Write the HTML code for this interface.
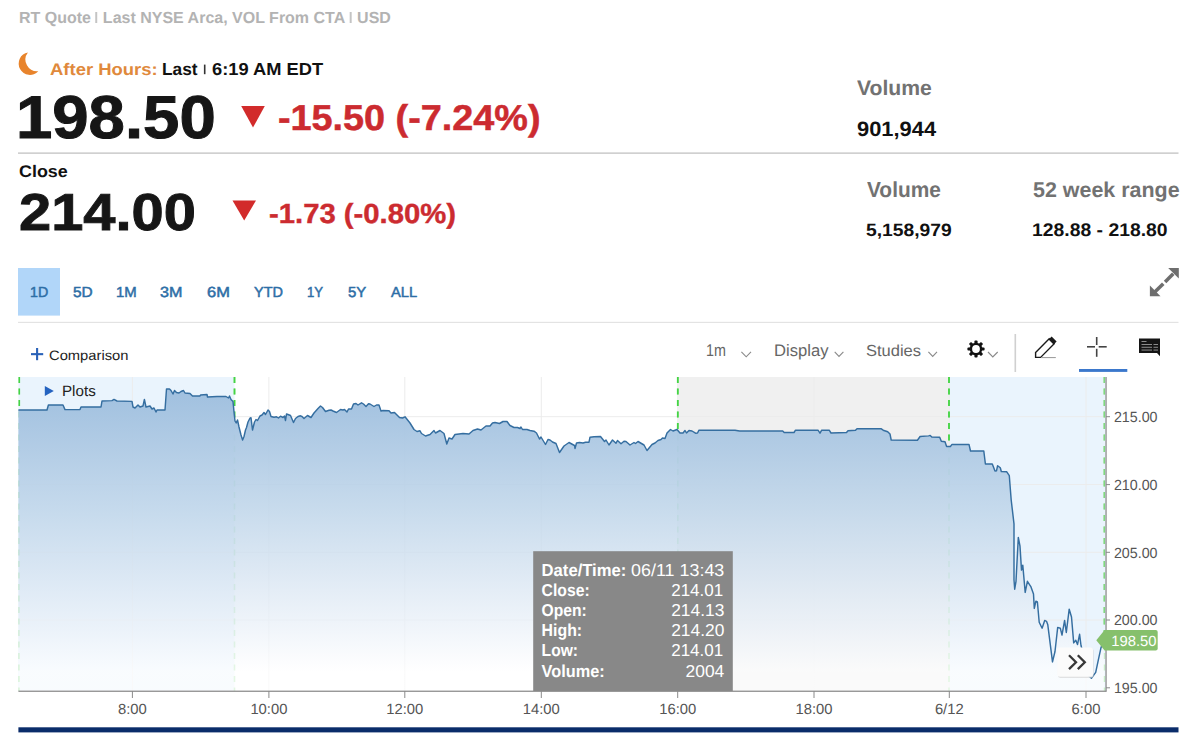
<!DOCTYPE html>
<html><head><meta charset="utf-8">
<style>
html,body{text-rendering:geometricPrecision;margin:0;padding:0;background:#fff;width:1200px;height:753px;overflow:hidden;position:relative}
.t{position:absolute;font-family:'Liberation Sans', sans-serif;line-height:1;white-space:pre;transform-origin:0 0}
.ax{font-family:'Liberation Sans', sans-serif;font-size:14.8px;fill:#555}
.tt{font-family:'Liberation Sans', sans-serif;font-size:17.3px;fill:#fff}
</style></head><body>
<svg width="1200" height="753" style="position:absolute;left:0;top:0">
<defs>
<linearGradient id="fg" gradientUnits="userSpaceOnUse" x1="0" y1="390" x2="0" y2="691">
<stop offset="0.000" stop-color="rgb(160,192,223)" stop-opacity="1.000"/>
<stop offset="0.199" stop-color="rgb(175,202,228)" stop-opacity="0.936"/>
<stop offset="0.399" stop-color="rgb(192,214,234)" stop-opacity="0.872"/>
<stop offset="0.598" stop-color="rgb(213,227,241)" stop-opacity="0.809"/>
<stop offset="0.797" stop-color="rgb(236,242,249)" stop-opacity="0.745"/>
<stop offset="0.937" stop-color="rgb(255,255,255)" stop-opacity="0.700"/>
<stop offset="1.000" stop-color="rgb(255,255,255)" stop-opacity="0.680"/>
</linearGradient>
</defs>
<!-- moon -->
<path d="M27.9,52.4 A11.35,11.35 0 1 0 38.3,71.3 A11.8,11.8 0 0 1 27.9,52.4 Z" fill="#e8842c"/>
<!-- triangles -->
<path d="M241.2,106 L264.8,106 L253,127.6 Z" fill="#d22b2b"/>
<path d="M232.5,200.5 L256,200.5 L244.2,220.5 Z" fill="#d22b2b"/>
<!-- dividers -->
<rect x="18" y="152.5" width="1160.5" height="1.2" fill="#bdbdbd"/>
<rect x="18" y="268" width="42" height="47.6" fill="#b1d6f9"/>
<rect x="18" y="321.8" width="1160.5" height="1.2" fill="#e3e3e3"/>
<!-- expand icon -->
<g fill="#6e6e6e">
<path d="M1168.2,268 L1178.8,268 L1178.8,278.6 Z"/>
<path d="M1149.9,285.6 L1149.9,296.2 L1160.5,296.2 Z"/>
<path d="M1172,272.5 L1174.5,275 L1166.3,283.2 L1163.8,280.7 Z"/>
<path d="M1162,282.4 L1164.5,284.9 L1156.3,293.1 L1153.8,290.6 Z"/>
</g>
<rect x="203.9" y="64.6" width="1.6" height="9.6" fill="#333"/>
<!-- plus -->
<rect x="31" y="353.1" width="12.2" height="2.1" fill="#2a62b8"/>
<rect x="36.05" y="348" width="2.1" height="12.2" fill="#2a62b8"/>
<!-- dropdown chevrons -->
<g stroke="#8a8a8a" stroke-width="1.1" fill="none">
<path d="M741.4,351.8 L746.2,356.8 L751,351.8"/>
<path d="M834.7,351.8 L839,356.4 L843.4,351.8"/>
<path d="M928.4,351.8 L932.7,356.4 L937,351.8"/>
<path d="M988,352 L992.8,357 L997.7,352"/>
</g>
<!-- gear -->
<g transform="translate(976,349)">
<g fill="#111">
<circle r="6.3"/>
<rect x="-1.6" y="-8.6" width="3.2" height="17.2" rx="1"/>
<rect x="-1.6" y="-8.6" width="3.2" height="17.2" rx="1" transform="rotate(45)"/>
<rect x="-1.6" y="-8.6" width="3.2" height="17.2" rx="1" transform="rotate(90)"/>
<rect x="-1.6" y="-8.6" width="3.2" height="17.2" rx="1" transform="rotate(135)"/>
</g>
<circle r="3.9" fill="#fff"/>
</g>
<rect x="1014.5" y="334" width="1.6" height="38" fill="#d0d0d0"/>
<!-- pencil -->
<g>
<path d="M1035.6,352.4 L1049.2,338.8 L1054.2,343.8 L1040.6,357.4 L1035.6,357.4 Z" fill="none" stroke="#1a1a1a" stroke-width="1.4" stroke-linejoin="miter"/>
<path d="M1048.6,339.4 L1051.6,336.4 L1056.6,341.4 L1053.6,344.4 Z" fill="#1a1a1a"/>
<rect x="1041" y="357" width="14.8" height="1.1" fill="#a0a0a0"/>
</g>
<!-- crosshair -->
<g fill="#444">
<rect x="1087" y="346.0" width="8" height="1.6"/>
<rect x="1098.7" y="346.0" width="8" height="1.6"/>
<rect x="1095.9" y="337" width="1.6" height="8"/>
<rect x="1095.9" y="348.8" width="1.6" height="8"/>
</g>
<rect x="1079" y="369" width="48.3" height="2.9" fill="#3b78cc"/>
<!-- comment icon -->
<path d="M1139,338.5 L1160,338.5 L1160,356.3 L1157,353 L1139,353 Z" fill="#141414"/>
<g fill="#999">
<rect x="1141.5" y="341" width="5" height="0.9"/>
<rect x="1141.5" y="344" width="10.5" height="0.9"/>
<rect x="1153.5" y="344" width="4.5" height="0.9"/>
<rect x="1141.5" y="346.8" width="10.5" height="0.9"/>
<rect x="1153.5" y="346.8" width="4.5" height="0.9"/>
<rect x="1141.5" y="349.6" width="10.5" height="0.9"/>
<rect x="1153.5" y="349.6" width="4.5" height="0.9"/>
</g>

<!-- chart backgrounds -->
<rect x="18.4" y="377" width="216.1" height="314" fill="#eaf4fd"/>
<rect x="677.8" y="377" width="271.2" height="314" fill="#f0f0f0"/>
<rect x="949" y="377" width="157" height="314" fill="#eaf4fd"/>
<line x1="18.4" x2="1106" y1="416.7" y2="416.7" stroke="#ececec" stroke-width="1"/><line x1="18.4" x2="1106" y1="484.6" y2="484.6" stroke="#ececec" stroke-width="1"/><line x1="18.4" x2="1106" y1="552.3" y2="552.3" stroke="#ececec" stroke-width="1"/><line x1="18.4" x2="1106" y1="620.0" y2="620.0" stroke="#ececec" stroke-width="1"/><line x1="132.4" x2="132.4" y1="377" y2="691" stroke="#ececec" stroke-width="1"/><line x1="268.9" x2="268.9" y1="377" y2="691" stroke="#ececec" stroke-width="1"/><line x1="404.8" x2="404.8" y1="377" y2="691" stroke="#ececec" stroke-width="1"/><line x1="541.3" x2="541.3" y1="377" y2="691" stroke="#ececec" stroke-width="1"/><line x1="677.7" x2="677.7" y1="377" y2="691" stroke="#ececec" stroke-width="1"/><line x1="814.0" x2="814.0" y1="377" y2="691" stroke="#ececec" stroke-width="1"/><line x1="949.3" x2="949.3" y1="377" y2="691" stroke="#ececec" stroke-width="1"/><line x1="1086.0" x2="1086.0" y1="377" y2="691" stroke="#ececec" stroke-width="1"/>
<line x1="19.2" x2="19.2" y1="377" y2="691" stroke="#a8e4a8" stroke-width="1.6" stroke-dasharray="6,5.5"/><line x1="234.5" x2="234.5" y1="377" y2="691" stroke="#a8e4a8" stroke-width="1.6" stroke-dasharray="6,5.5"/><line x1="677.8" x2="677.8" y1="377" y2="691" stroke="#a8e4a8" stroke-width="1.6" stroke-dasharray="6,5.5"/><line x1="949.0" x2="949.0" y1="377" y2="691" stroke="#a8e4a8" stroke-width="1.6" stroke-dasharray="6,5.5"/><line x1="1104.3" x2="1104.3" y1="377" y2="691" stroke="#a8e4a8" stroke-width="1.6" stroke-dasharray="6,5.5"/>
<path d="M18.4,410.0 L47.0,410.0 L48.4,405.0 L63.0,405.0 L65.0,409.6 L80.0,409.6 L81.0,407.0 L101.0,407.0 L102.0,401.0 L112.0,400.6 L114.0,399.4 L117.0,401.0 L132.0,401.4 L133.0,407.0 L135.0,408.0 L138.0,405.0 L140.0,407.0 L143.0,406.0 L144.4,399.4 L146.0,407.0 L150.0,406.0 L152.0,409.0 L154.0,408.0 L156.0,412.0 L157.0,410.0 L165.0,410.0 L166.5,389.0 L169.5,389.0 L171.0,390.5 L173.0,394.0 L174.5,390.5 L176.5,392.5 L179.0,393.0 L181.0,391.5 L183.5,390.5 L185.0,393.0 L190.0,393.5 L192.5,396.0 L200.0,396.0 L200.5,395.0 L207.0,394.5 L207.5,397.0 L217.0,396.5 L226.0,396.5 L228.5,398.0 L229.5,396.0 L231.0,399.5 L233.0,401.5 L234.0,412.0 L235.0,421.0 L236.2,423.0 L237.5,420.0 L239.0,427.0 L241.0,435.0 L242.6,440.0 L244.0,436.5 L245.5,430.0 L246.5,427.5 L248.0,422.0 L250.0,418.2 L251.0,417.7 L252.5,430.0 L254.5,422.0 L256.0,419.5 L257.5,420.5 L260.0,416.0 L262.0,415.0 L264.0,412.5 L265.5,414.5 L268.0,410.0 L269.5,411.5 L271.0,416.5 L274.0,417.2 L276.5,416.8 L278.5,418.0 L280.5,416.2 L283.0,417.5 L284.5,416.0 L285.5,420.5 L286.5,414.0 L288.0,414.5 L290.5,415.5 L293.5,422.5 L295.5,418.5 L298.0,416.5 L300.5,415.8 L302.0,416.5 L304.0,418.5 L307.5,415.5 L311.0,417.5 L314.0,413.0 L318.0,408.5 L320.5,406.0 L322.5,407.5 L325.5,411.5 L329.0,410.2 L331.0,410.0 L333.0,411.0 L336.5,412.5 L340.5,409.5 L343.0,410.0 L344.5,409.5 L347.0,412.0 L348.5,409.0 L351.5,409.0 L353.5,404.0 L356.0,403.5 L358.0,405.0 L361.5,402.8 L363.5,404.0 L366.0,406.5 L368.5,403.8 L370.0,404.0 L374.0,406.5 L376.5,405.0 L379.0,405.0 L381.0,411.0 L383.0,410.5 L389.0,410.8 L391.0,413.0 L394.5,412.5 L399.5,417.5 L402.5,418.0 L405.0,416.8 L410.0,423.0 L414.0,429.5 L417.0,431.5 L420.0,430.8 L421.5,433.5 L425.5,436.0 L430.0,434.5 L434.0,430.5 L435.5,433.0 L440.0,430.5 L444.0,433.5 L446.8,444.0 L449.0,438.0 L452.0,439.0 L455.0,434.5 L459.0,434.0 L463.0,433.5 L469.0,434.0 L473.0,430.5 L477.5,429.0 L481.0,430.0 L486.0,426.0 L490.0,426.0 L492.5,423.0 L495.0,422.5 L499.5,423.5 L503.0,421.5 L507.0,421.5 L510.0,425.5 L514.0,427.5 L517.5,427.5 L520.0,428.5 L521.0,427.0 L522.5,429.5 L527.0,429.5 L530.0,430.5 L534.0,431.2 L536.5,433.0 L539.5,439.0 L541.0,437.0 L545.5,444.5 L548.0,439.5 L550.0,440.0 L552.5,442.0 L556.0,443.5 L559.5,452.5 L564.0,446.0 L569.0,442.5 L574.5,445.5 L575.0,448.5 L576.5,443.0 L579.5,442.5 L583.0,443.0 L585.5,442.2 L589.0,442.2 L590.0,437.2 L594.0,436.8 L600.5,436.5 L604.5,441.5 L606.0,440.0 L609.0,445.0 L612.5,440.0 L616.0,443.2 L617.5,440.5 L621.0,443.8 L624.0,441.2 L626.0,441.5 L630.0,445.0 L634.0,442.5 L635.5,443.5 L638.0,441.5 L644.0,445.0 L647.0,450.5 L652.0,444.5 L655.0,443.0 L658.0,440.5 L661.0,439.5 L662.5,438.0 L665.0,438.5 L667.0,433.0 L670.5,429.5 L673.0,431.0 L677.0,429.5 L680.0,433.0 L683.0,433.0 L685.0,430.5 L686.5,433.0 L689.0,430.5 L692.0,431.0 L695.5,433.2 L697.5,433.0 L699.0,430.2 L735.0,430.2 L739.5,431.0 L782.7,431.0 L784.2,432.5 L794.0,432.5 L795.5,430.2 L818.0,430.2 L820.0,433.2 L821.7,430.2 L829.2,430.2 L831.0,433.0 L846.5,432.5 L848.0,430.7 L855.5,430.2 L857.0,428.7 L881.0,428.7 L883.2,430.2 L887.7,431.7 L890.0,434.0 L891.2,440.0 L917.4,440.2 L920.1,436.5 L928.6,435.9 L930.2,435.4 L931.8,437.0 L939.7,437.2 L941.3,441.2 L945.0,441.8 L946.6,446.5 L950.4,446.5 L952.0,444.4 L969.0,444.4 L970.5,451.0 L983.8,451.0 L985.4,464.0 L992.3,464.0 L995.0,471.0 L996.5,470.8 L997.6,465.7 L1000.3,467.8 L1001.3,471.5 L1006.6,471.7 L1009.3,475.7 L1011.2,500.0 L1014.0,523.9 L1014.0,579.7 L1014.7,589.2 L1016.0,581.3 L1018.3,537.5 L1020.0,546.2 L1021.5,570.1 L1022.8,565.3 L1025.2,592.4 L1027.4,581.3 L1031.0,586.9 L1033.5,594.0 L1034.3,608.4 L1035.9,601.2 L1037.4,602.0 L1039.2,622.2 L1042.1,628.2 L1044.7,620.4 L1046.5,621.3 L1047.8,624.8 L1052.5,661.9 L1055.0,651.5 L1057.7,627.4 L1060.3,628.2 L1062.0,635.1 L1064.6,620.4 L1066.3,632.5 L1069.2,609.2 L1071.5,617.0 L1073.7,642.9 L1075.8,640.3 L1077.5,644.6 L1079.6,634.3 L1081.0,645.5 L1085.0,660.0 L1089.0,676.0 L1091.4,678.3 L1095.7,672.3 L1098.3,660.2 L1100.9,648.1 L1103.4,641.2 L1104.5,640.0 L1104.5,691 L18.4,691 Z" fill="url(#fg)"/>
<clipPath id="above"><path d="M18.4,410.0 L47.0,410.0 L48.4,405.0 L63.0,405.0 L65.0,409.6 L80.0,409.6 L81.0,407.0 L101.0,407.0 L102.0,401.0 L112.0,400.6 L114.0,399.4 L117.0,401.0 L132.0,401.4 L133.0,407.0 L135.0,408.0 L138.0,405.0 L140.0,407.0 L143.0,406.0 L144.4,399.4 L146.0,407.0 L150.0,406.0 L152.0,409.0 L154.0,408.0 L156.0,412.0 L157.0,410.0 L165.0,410.0 L166.5,389.0 L169.5,389.0 L171.0,390.5 L173.0,394.0 L174.5,390.5 L176.5,392.5 L179.0,393.0 L181.0,391.5 L183.5,390.5 L185.0,393.0 L190.0,393.5 L192.5,396.0 L200.0,396.0 L200.5,395.0 L207.0,394.5 L207.5,397.0 L217.0,396.5 L226.0,396.5 L228.5,398.0 L229.5,396.0 L231.0,399.5 L233.0,401.5 L234.0,412.0 L235.0,421.0 L236.2,423.0 L237.5,420.0 L239.0,427.0 L241.0,435.0 L242.6,440.0 L244.0,436.5 L245.5,430.0 L246.5,427.5 L248.0,422.0 L250.0,418.2 L251.0,417.7 L252.5,430.0 L254.5,422.0 L256.0,419.5 L257.5,420.5 L260.0,416.0 L262.0,415.0 L264.0,412.5 L265.5,414.5 L268.0,410.0 L269.5,411.5 L271.0,416.5 L274.0,417.2 L276.5,416.8 L278.5,418.0 L280.5,416.2 L283.0,417.5 L284.5,416.0 L285.5,420.5 L286.5,414.0 L288.0,414.5 L290.5,415.5 L293.5,422.5 L295.5,418.5 L298.0,416.5 L300.5,415.8 L302.0,416.5 L304.0,418.5 L307.5,415.5 L311.0,417.5 L314.0,413.0 L318.0,408.5 L320.5,406.0 L322.5,407.5 L325.5,411.5 L329.0,410.2 L331.0,410.0 L333.0,411.0 L336.5,412.5 L340.5,409.5 L343.0,410.0 L344.5,409.5 L347.0,412.0 L348.5,409.0 L351.5,409.0 L353.5,404.0 L356.0,403.5 L358.0,405.0 L361.5,402.8 L363.5,404.0 L366.0,406.5 L368.5,403.8 L370.0,404.0 L374.0,406.5 L376.5,405.0 L379.0,405.0 L381.0,411.0 L383.0,410.5 L389.0,410.8 L391.0,413.0 L394.5,412.5 L399.5,417.5 L402.5,418.0 L405.0,416.8 L410.0,423.0 L414.0,429.5 L417.0,431.5 L420.0,430.8 L421.5,433.5 L425.5,436.0 L430.0,434.5 L434.0,430.5 L435.5,433.0 L440.0,430.5 L444.0,433.5 L446.8,444.0 L449.0,438.0 L452.0,439.0 L455.0,434.5 L459.0,434.0 L463.0,433.5 L469.0,434.0 L473.0,430.5 L477.5,429.0 L481.0,430.0 L486.0,426.0 L490.0,426.0 L492.5,423.0 L495.0,422.5 L499.5,423.5 L503.0,421.5 L507.0,421.5 L510.0,425.5 L514.0,427.5 L517.5,427.5 L520.0,428.5 L521.0,427.0 L522.5,429.5 L527.0,429.5 L530.0,430.5 L534.0,431.2 L536.5,433.0 L539.5,439.0 L541.0,437.0 L545.5,444.5 L548.0,439.5 L550.0,440.0 L552.5,442.0 L556.0,443.5 L559.5,452.5 L564.0,446.0 L569.0,442.5 L574.5,445.5 L575.0,448.5 L576.5,443.0 L579.5,442.5 L583.0,443.0 L585.5,442.2 L589.0,442.2 L590.0,437.2 L594.0,436.8 L600.5,436.5 L604.5,441.5 L606.0,440.0 L609.0,445.0 L612.5,440.0 L616.0,443.2 L617.5,440.5 L621.0,443.8 L624.0,441.2 L626.0,441.5 L630.0,445.0 L634.0,442.5 L635.5,443.5 L638.0,441.5 L644.0,445.0 L647.0,450.5 L652.0,444.5 L655.0,443.0 L658.0,440.5 L661.0,439.5 L662.5,438.0 L665.0,438.5 L667.0,433.0 L670.5,429.5 L673.0,431.0 L677.0,429.5 L680.0,433.0 L683.0,433.0 L685.0,430.5 L686.5,433.0 L689.0,430.5 L692.0,431.0 L695.5,433.2 L697.5,433.0 L699.0,430.2 L735.0,430.2 L739.5,431.0 L782.7,431.0 L784.2,432.5 L794.0,432.5 L795.5,430.2 L818.0,430.2 L820.0,433.2 L821.7,430.2 L829.2,430.2 L831.0,433.0 L846.5,432.5 L848.0,430.7 L855.5,430.2 L857.0,428.7 L881.0,428.7 L883.2,430.2 L887.7,431.7 L890.0,434.0 L891.2,440.0 L917.4,440.2 L920.1,436.5 L928.6,435.9 L930.2,435.4 L931.8,437.0 L939.7,437.2 L941.3,441.2 L945.0,441.8 L946.6,446.5 L950.4,446.5 L952.0,444.4 L969.0,444.4 L970.5,451.0 L983.8,451.0 L985.4,464.0 L992.3,464.0 L995.0,471.0 L996.5,470.8 L997.6,465.7 L1000.3,467.8 L1001.3,471.5 L1006.6,471.7 L1009.3,475.7 L1011.2,500.0 L1014.0,523.9 L1014.0,579.7 L1014.7,589.2 L1016.0,581.3 L1018.3,537.5 L1020.0,546.2 L1021.5,570.1 L1022.8,565.3 L1025.2,592.4 L1027.4,581.3 L1031.0,586.9 L1033.5,594.0 L1034.3,608.4 L1035.9,601.2 L1037.4,602.0 L1039.2,622.2 L1042.1,628.2 L1044.7,620.4 L1046.5,621.3 L1047.8,624.8 L1052.5,661.9 L1055.0,651.5 L1057.7,627.4 L1060.3,628.2 L1062.0,635.1 L1064.6,620.4 L1066.3,632.5 L1069.2,609.2 L1071.5,617.0 L1073.7,642.9 L1075.8,640.3 L1077.5,644.6 L1079.6,634.3 L1081.0,645.5 L1085.0,660.0 L1089.0,676.0 L1091.4,678.3 L1095.7,672.3 L1098.3,660.2 L1100.9,648.1 L1103.4,641.2 L1104.5,640.0 L1107,640 L1107,377 L18.4,377 Z"/></clipPath>
<g clip-path="url(#above)"><line x1="19.2" x2="19.2" y1="377" y2="691" stroke="#44d444" stroke-width="1.8" stroke-dasharray="6,5.5"/><line x1="234.5" x2="234.5" y1="377" y2="691" stroke="#44d444" stroke-width="1.8" stroke-dasharray="6,5.5"/><line x1="677.8" x2="677.8" y1="377" y2="691" stroke="#44d444" stroke-width="1.8" stroke-dasharray="6,5.5"/><line x1="949.0" x2="949.0" y1="377" y2="691" stroke="#44d444" stroke-width="1.8" stroke-dasharray="6,5.5"/><line x1="1104.3" x2="1104.3" y1="377" y2="691" stroke="#80d880" stroke-width="1.4" stroke-dasharray="6,5.5"/></g>
<path d="M18.4,410.0 L47.0,410.0 L48.4,405.0 L63.0,405.0 L65.0,409.6 L80.0,409.6 L81.0,407.0 L101.0,407.0 L102.0,401.0 L112.0,400.6 L114.0,399.4 L117.0,401.0 L132.0,401.4 L133.0,407.0 L135.0,408.0 L138.0,405.0 L140.0,407.0 L143.0,406.0 L144.4,399.4 L146.0,407.0 L150.0,406.0 L152.0,409.0 L154.0,408.0 L156.0,412.0 L157.0,410.0 L165.0,410.0 L166.5,389.0 L169.5,389.0 L171.0,390.5 L173.0,394.0 L174.5,390.5 L176.5,392.5 L179.0,393.0 L181.0,391.5 L183.5,390.5 L185.0,393.0 L190.0,393.5 L192.5,396.0 L200.0,396.0 L200.5,395.0 L207.0,394.5 L207.5,397.0 L217.0,396.5 L226.0,396.5 L228.5,398.0 L229.5,396.0 L231.0,399.5 L233.0,401.5 L234.0,412.0 L235.0,421.0 L236.2,423.0 L237.5,420.0 L239.0,427.0 L241.0,435.0 L242.6,440.0 L244.0,436.5 L245.5,430.0 L246.5,427.5 L248.0,422.0 L250.0,418.2 L251.0,417.7 L252.5,430.0 L254.5,422.0 L256.0,419.5 L257.5,420.5 L260.0,416.0 L262.0,415.0 L264.0,412.5 L265.5,414.5 L268.0,410.0 L269.5,411.5 L271.0,416.5 L274.0,417.2 L276.5,416.8 L278.5,418.0 L280.5,416.2 L283.0,417.5 L284.5,416.0 L285.5,420.5 L286.5,414.0 L288.0,414.5 L290.5,415.5 L293.5,422.5 L295.5,418.5 L298.0,416.5 L300.5,415.8 L302.0,416.5 L304.0,418.5 L307.5,415.5 L311.0,417.5 L314.0,413.0 L318.0,408.5 L320.5,406.0 L322.5,407.5 L325.5,411.5 L329.0,410.2 L331.0,410.0 L333.0,411.0 L336.5,412.5 L340.5,409.5 L343.0,410.0 L344.5,409.5 L347.0,412.0 L348.5,409.0 L351.5,409.0 L353.5,404.0 L356.0,403.5 L358.0,405.0 L361.5,402.8 L363.5,404.0 L366.0,406.5 L368.5,403.8 L370.0,404.0 L374.0,406.5 L376.5,405.0 L379.0,405.0 L381.0,411.0 L383.0,410.5 L389.0,410.8 L391.0,413.0 L394.5,412.5 L399.5,417.5 L402.5,418.0 L405.0,416.8 L410.0,423.0 L414.0,429.5 L417.0,431.5 L420.0,430.8 L421.5,433.5 L425.5,436.0 L430.0,434.5 L434.0,430.5 L435.5,433.0 L440.0,430.5 L444.0,433.5 L446.8,444.0 L449.0,438.0 L452.0,439.0 L455.0,434.5 L459.0,434.0 L463.0,433.5 L469.0,434.0 L473.0,430.5 L477.5,429.0 L481.0,430.0 L486.0,426.0 L490.0,426.0 L492.5,423.0 L495.0,422.5 L499.5,423.5 L503.0,421.5 L507.0,421.5 L510.0,425.5 L514.0,427.5 L517.5,427.5 L520.0,428.5 L521.0,427.0 L522.5,429.5 L527.0,429.5 L530.0,430.5 L534.0,431.2 L536.5,433.0 L539.5,439.0 L541.0,437.0 L545.5,444.5 L548.0,439.5 L550.0,440.0 L552.5,442.0 L556.0,443.5 L559.5,452.5 L564.0,446.0 L569.0,442.5 L574.5,445.5 L575.0,448.5 L576.5,443.0 L579.5,442.5 L583.0,443.0 L585.5,442.2 L589.0,442.2 L590.0,437.2 L594.0,436.8 L600.5,436.5 L604.5,441.5 L606.0,440.0 L609.0,445.0 L612.5,440.0 L616.0,443.2 L617.5,440.5 L621.0,443.8 L624.0,441.2 L626.0,441.5 L630.0,445.0 L634.0,442.5 L635.5,443.5 L638.0,441.5 L644.0,445.0 L647.0,450.5 L652.0,444.5 L655.0,443.0 L658.0,440.5 L661.0,439.5 L662.5,438.0 L665.0,438.5 L667.0,433.0 L670.5,429.5 L673.0,431.0 L677.0,429.5 L680.0,433.0 L683.0,433.0 L685.0,430.5 L686.5,433.0 L689.0,430.5 L692.0,431.0 L695.5,433.2 L697.5,433.0 L699.0,430.2 L735.0,430.2 L739.5,431.0 L782.7,431.0 L784.2,432.5 L794.0,432.5 L795.5,430.2 L818.0,430.2 L820.0,433.2 L821.7,430.2 L829.2,430.2 L831.0,433.0 L846.5,432.5 L848.0,430.7 L855.5,430.2 L857.0,428.7 L881.0,428.7 L883.2,430.2 L887.7,431.7 L890.0,434.0 L891.2,440.0 L917.4,440.2 L920.1,436.5 L928.6,435.9 L930.2,435.4 L931.8,437.0 L939.7,437.2 L941.3,441.2 L945.0,441.8 L946.6,446.5 L950.4,446.5 L952.0,444.4 L969.0,444.4 L970.5,451.0 L983.8,451.0 L985.4,464.0 L992.3,464.0 L995.0,471.0 L996.5,470.8 L997.6,465.7 L1000.3,467.8 L1001.3,471.5 L1006.6,471.7 L1009.3,475.7 L1011.2,500.0 L1014.0,523.9 L1014.0,579.7 L1014.7,589.2 L1016.0,581.3 L1018.3,537.5 L1020.0,546.2 L1021.5,570.1 L1022.8,565.3 L1025.2,592.4 L1027.4,581.3 L1031.0,586.9 L1033.5,594.0 L1034.3,608.4 L1035.9,601.2 L1037.4,602.0 L1039.2,622.2 L1042.1,628.2 L1044.7,620.4 L1046.5,621.3 L1047.8,624.8 L1052.5,661.9 L1055.0,651.5 L1057.7,627.4 L1060.3,628.2 L1062.0,635.1 L1064.6,620.4 L1066.3,632.5 L1069.2,609.2 L1071.5,617.0 L1073.7,642.9 L1075.8,640.3 L1077.5,644.6 L1079.6,634.3 L1081.0,645.5 L1085.0,660.0 L1089.0,676.0 L1091.4,678.3 L1095.7,672.3 L1098.3,660.2 L1100.9,648.1 L1103.4,641.2 L1104.5,640.0" fill="none" stroke="#356ea0" stroke-width="1.45" stroke-linejoin="round"/>
<!-- plots triangle -->
<path d="M44.8,386 L53.8,391 L44.8,396 Z" fill="#2563c0"/>
<!-- axes -->
<rect x="18.4" y="690.6" width="1088" height="1.3" fill="#8e8e8e"/>
<rect x="1105.4" y="377" width="1.3" height="314.6" fill="#8e8e8e"/>
<line x1="132.4" x2="132.4" y1="691" y2="698" stroke="#8a8a8a" stroke-width="1"/><line x1="268.9" x2="268.9" y1="691" y2="698" stroke="#8a8a8a" stroke-width="1"/><line x1="404.8" x2="404.8" y1="691" y2="698" stroke="#8a8a8a" stroke-width="1"/><line x1="541.3" x2="541.3" y1="691" y2="698" stroke="#8a8a8a" stroke-width="1"/><line x1="677.7" x2="677.7" y1="691" y2="698" stroke="#8a8a8a" stroke-width="1"/><line x1="814.0" x2="814.0" y1="691" y2="698" stroke="#8a8a8a" stroke-width="1"/><line x1="949.3" x2="949.3" y1="691" y2="698" stroke="#8a8a8a" stroke-width="1"/><line x1="1086.0" x2="1086.0" y1="691" y2="698" stroke="#8a8a8a" stroke-width="1"/><line x1="1106" x2="1110" y1="416.7" y2="416.7" stroke="#8a8a8a" stroke-width="1"/><line x1="1106" x2="1110" y1="484.6" y2="484.6" stroke="#8a8a8a" stroke-width="1"/><line x1="1106" x2="1110" y1="552.3" y2="552.3" stroke="#8a8a8a" stroke-width="1"/><line x1="1106" x2="1110" y1="620.0" y2="620.0" stroke="#8a8a8a" stroke-width="1"/><line x1="1106" x2="1110" y1="687.8" y2="687.8" stroke="#8a8a8a" stroke-width="1"/>
<text x="1113.9" y="421.9" class="ax" textLength="43.6" lengthAdjust="spacingAndGlyphs">215.00</text><text x="1113.9" y="489.8" class="ax" textLength="43.6" lengthAdjust="spacingAndGlyphs">210.00</text><text x="1113.9" y="557.5" class="ax" textLength="43.6" lengthAdjust="spacingAndGlyphs">205.00</text><text x="1113.9" y="625.2" class="ax" textLength="43.6" lengthAdjust="spacingAndGlyphs">200.00</text><text x="1113.9" y="693.0" class="ax" textLength="43.6" lengthAdjust="spacingAndGlyphs">195.00</text>
<text x="132.4" y="713.6" class="ax" text-anchor="middle">8:00</text><text x="268.9" y="713.6" class="ax" text-anchor="middle">10:00</text><text x="404.8" y="713.6" class="ax" text-anchor="middle">12:00</text><text x="541.3" y="713.6" class="ax" text-anchor="middle">14:00</text><text x="677.7" y="713.6" class="ax" text-anchor="middle">16:00</text><text x="814.0" y="713.6" class="ax" text-anchor="middle">18:00</text><text x="949.3" y="713.6" class="ax" text-anchor="middle">6/12</text><text x="1086.0" y="713.6" class="ax" text-anchor="middle">6:00</text>
<!-- green last price label -->
<path d="M1096.3,640.3 L1104.6,630 L1155.7,630 Q1157.7,630 1157.7,632 L1157.7,648.6 Q1157.7,650.6 1155.7,650.6 L1104.6,650.6 Z" fill="#86c06c"/>
<text x="1111.2" y="645.6" style="font-family:'Liberation Sans', sans-serif;font-size:14.8px;fill:#fff">198.50</text>
<!-- >> button -->
<rect x="1058" y="648.5" width="35.5" height="29.3" rx="2.5" fill="#cfcfcf" opacity="0.8"/><rect x="1057.2" y="647.5" width="35.8" height="29.3" rx="2.5" fill="#fbfbfb"/>
<path d="M1069,655.3 L1076,662.2 L1069,669.1 M1077.8,655.3 L1084.8,662.2 L1077.8,669.1" fill="none" stroke="#383838" stroke-width="2.3"/>
<!-- tooltip -->
<rect x="533.2" y="551.2" width="199.6" height="139.8" fill="#888888"/>
<g class="tt">
<text x="541.6" y="575.9" font-weight="700" textLength="84.7" lengthAdjust="spacingAndGlyphs">Date/Time:</text><text x="631.1" y="575.9" textLength="93.2" lengthAdjust="spacingAndGlyphs">06/11 13:43</text>
<text x="541.6" y="595.9" font-weight="700" textLength="48.1" lengthAdjust="spacingAndGlyphs">Close:</text><text x="671.2" y="595.9" textLength="52.0" lengthAdjust="spacingAndGlyphs">214.01</text>
<text x="541.6" y="616.0" font-weight="700" textLength="45.2" lengthAdjust="spacingAndGlyphs">Open:</text><text x="671.2" y="616.0" textLength="53.1" lengthAdjust="spacingAndGlyphs">214.13</text>
<text x="541.6" y="636.2" font-weight="700" textLength="40.5" lengthAdjust="spacingAndGlyphs">High:</text><text x="671.2" y="636.2" textLength="53.1" lengthAdjust="spacingAndGlyphs">214.20</text>
<text x="541.6" y="656.3" font-weight="700" textLength="36.4" lengthAdjust="spacingAndGlyphs">Low:</text><text x="671.2" y="656.3" textLength="52.0" lengthAdjust="spacingAndGlyphs">214.01</text>
<text x="541.6" y="676.5" font-weight="700" textLength="63.1" lengthAdjust="spacingAndGlyphs">Volume:</text><text x="685.6" y="676.5" textLength="38.7" lengthAdjust="spacingAndGlyphs">2004</text>
</g>
<!-- navy bar -->
<rect x="18.4" y="727.3" width="1160.1" height="5.1" fill="#0a2c6a"/>
</svg>
<div class="t" style="left:0;top:0;font-size:0">
</div>
<div class="t" style="left:18.71px;top:9.75px;font-size:16.16px;font-weight:700;color:#b3b3b3;transform:scaleX(0.9901);">RT Quote<span style="display:inline-block;width:2px;height:11px;background:#c4c4c4;margin:0 5.5px 0 4.5px;vertical-align:baseline"></span>Last NYSE Arca, VOL From CTA<span style="display:inline-block;width:2px;height:11px;background:#c4c4c4;margin:0 5.5px 0 4.5px;vertical-align:baseline"></span>USD</div>
<div class="t" style="left:50.2px;top:61.96px;font-size:16.75px;font-weight:700;color:#e0893c;transform:scaleX(1.1021);">After Hours:</div>
<div class="t" style="left:161.71px;top:61.0px;font-size:17.39px;font-weight:700;color:#111111;transform:scaleX(0.9943);">Last</div>
<div class="t" style="left:212.24px;top:60.88px;font-size:17.3px;font-weight:700;color:#111111;transform:scaleX(1.0587);">6:19 AM EDT</div>
<div class="t" style="left:16.26px;top:86.5px;font-size:60.5px;font-weight:700;color:#161616;transform:scaleX(1.0792);-webkit-text-stroke:1px #161616;">198.50</div>
<div class="t" style="left:278.25px;top:100.68px;font-size:35.9px;font-weight:700;color:#cc2b30;transform:scaleX(1.0526);-webkit-text-stroke:0.5px #cc2b30;">-15.50 (-7.24%)</div>
<div class="t" style="left:857.0px;top:78.27px;font-size:21.09px;font-weight:700;color:#727272;transform:scaleX(1.0041);">Volume</div>
<div class="t" style="left:856.95px;top:119.78px;font-size:20.77px;font-weight:700;color:#111111;transform:scaleX(1.0541);">901,944</div>
<div class="t" style="left:18.93px;top:163.59px;font-size:16.77px;font-weight:700;color:#111111;transform:scaleX(1.0682);">Close</div>
<div class="t" style="left:18.89px;top:187.52px;font-size:51.91px;font-weight:700;color:#161616;transform:scaleX(1.1138);-webkit-text-stroke:0.9px #161616;">214.00</div>
<div class="t" style="left:269.44px;top:200.15px;font-size:27.72px;font-weight:700;color:#cc2b30;transform:scaleX(1.056);-webkit-text-stroke:0.4px #cc2b30;">-1.73 (-0.80%)</div>
<div class="t" style="left:867.0px;top:178.9px;font-size:21.74px;font-weight:700;color:#727272;transform:scaleX(0.9605);">Volume</div>
<div class="t" style="left:1032.59px;top:179.67px;font-size:21.31px;font-weight:700;color:#727272;transform:scaleX(1.0069);">52 week range</div>
<div class="t" style="left:865.91px;top:221.57px;font-size:17.75px;font-weight:700;color:#111111;transform:scaleX(1.0857);">5,158,979</div>
<div class="t" style="left:1031.64px;top:220.77px;font-size:18.22px;font-weight:700;color:#111111;transform:scaleX(1.0635);">128.88 - 218.80</div>
<div class="t" style="left:30.02px;top:285.73px;font-size:14.6px;font-weight:400;color:#2d6ea6;transform:scaleX(0.9765);-webkit-text-stroke:0.5px #2d6ea6;">1D</div>
<div class="t" style="left:73.0px;top:285.62px;font-size:14.6px;font-weight:400;color:#2d6ea6;transform:scaleX(1.0556);-webkit-text-stroke:0.5px #2d6ea6;">5D</div>
<div class="t" style="left:115.98px;top:285.73px;font-size:14.6px;font-weight:400;color:#2d6ea6;transform:scaleX(1.0222);-webkit-text-stroke:0.5px #2d6ea6;">1M</div>
<div class="t" style="left:160.4px;top:285.77px;font-size:14.6px;font-weight:400;color:#2d6ea6;transform:scaleX(1.1053);-webkit-text-stroke:0.5px #2d6ea6;">3M</div>
<div class="t" style="left:207.0px;top:285.73px;font-size:14.6px;font-weight:400;color:#2d6ea6;transform:scaleX(1.1263);-webkit-text-stroke:0.5px #2d6ea6;">6M</div>
<div class="t" style="left:254.0px;top:285.77px;font-size:14.6px;font-weight:400;color:#2d6ea6;transform:scaleX(0.9931);-webkit-text-stroke:0.5px #2d6ea6;">YTD</div>
<div class="t" style="left:306.6px;top:285.73px;font-size:14.6px;font-weight:400;color:#2d6ea6;transform:scaleX(0.9);-webkit-text-stroke:0.5px #2d6ea6;">1Y</div>
<div class="t" style="left:348.3px;top:285.62px;font-size:14.6px;font-weight:400;color:#2d6ea6;transform:scaleX(1.0222);-webkit-text-stroke:0.5px #2d6ea6;">5Y</div>
<div class="t" style="left:391.3px;top:285.74px;font-size:14.6px;font-weight:400;color:#2d6ea6;transform:scaleX(1.0077);-webkit-text-stroke:0.5px #2d6ea6;">ALL</div>
<div class="t" style="left:49.42px;top:348.88px;font-size:13.7px;font-weight:400;color:#222222;transform:scaleX(1.0764);">Comparison</div>
<div class="t" style="left:705.66px;top:341.88px;font-size:17.06px;font-weight:400;color:#666666;transform:scaleX(0.8409);">1m</div>
<div class="t" style="left:773.5px;top:343.12px;font-size:16.59px;font-weight:400;color:#666666;transform:scaleX(1.0019);">Display</div>
<div class="t" style="left:866.17px;top:343.87px;font-size:16.01px;font-weight:400;color:#666666;transform:scaleX(1.0308);">Studies</div>
<div class="t" style="left:61.79px;top:384.28px;font-size:15.08px;font-weight:400;color:#222222;transform:scaleX(1.0063);">Plots</div>
</body></html>
